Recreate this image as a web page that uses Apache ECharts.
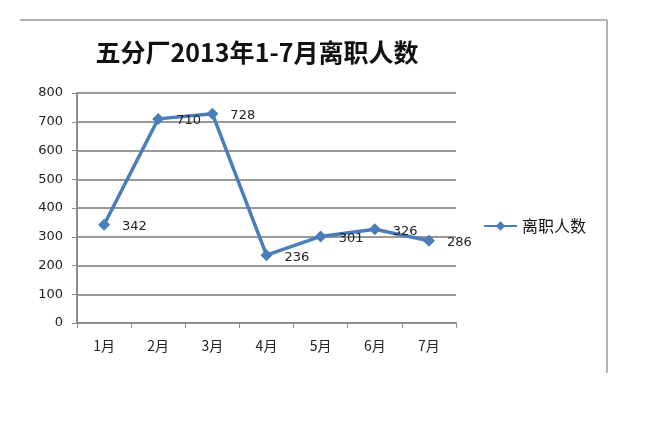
<!DOCTYPE html>
<html>
<head>
<meta charset="utf-8">
<script src="https://cdn.jsdelivr.net/npm/echarts@6/dist/echarts.min.js"></script>
<style>
html, body { margin: 0; padding: 0; background: #fff; }
#chart { width: 645px; height: 424px; }
</style>
</head>
<body>
<div id="chart"></div>
<script>
var months = ['1月', '2月', '3月', '4月', '5月', '6月', '7月'];
var leavers = [342, 710, 728, 236, 301, 326, 286];
var yTicks = [0, 100, 200, 300, 400, 500, 600, 700, 800];

var font = '"Noto Sans CJK SC", "Microsoft YaHei", sans-serif';
var numFont = 'Verdana, "DejaVu Sans", sans-serif';
var lineColor = '#4a7ebb';

var myChart = echarts.init(document.getElementById('chart'));

var option = {
    backgroundColor: '#fff',
    animation: false,
    title: {
        text: '五分厂2013年1-7月离职人数',
        left: 252,
        top: 35,
        textAlign: 'center',
        textStyle: {
            fontFamily: font,
            fontSize: 25,
            fontWeight: 'bold',
            color: '#111'
        }
    },
    legend: {
        data: ['离职人数'],
        orient: 'vertical',
        left: 483,
        top: 218,
        padding: 0,
        itemWidth: 33,
        itemHeight: 12,
        textStyle: { fontFamily: font, fontSize: 16, color: '#111' }
    },
    grid: {
        left: 77,
        top: 93,
        width: 379,
        height: 230
    },
    xAxis: {
        type: 'category',
        data: months,
        boundaryGap: true,
        axisLine: { lineStyle: { color: '#8c8c8c', width: 2 } },
        axisTick: { show: true, length: 5, lineStyle: { color: '#8c8c8c' } },
        axisLabel: { fontFamily: font, fontSize: 14, color: '#222', margin: 16 }
    },
    yAxis: {
        type: 'value',
        min: yTicks[0],
        max: yTicks[yTicks.length - 1],
        interval: 100,
        axisLine: { show: true, lineStyle: { color: '#8c8c8c', width: 2 } },
        axisTick: { show: true, length: 5, lineStyle: { color: '#8c8c8c' } },
        axisLabel: { fontFamily: numFont, fontSize: 13, color: '#222', margin: 14 },
        splitLine: { lineStyle: { color: '#999', width: 2 } }
    },
    series: [
        {
            name: '离职人数',
            type: 'line',
            data: leavers,
            symbol: 'diamond',
            symbolSize: 12,
            itemStyle: { color: lineColor },
            lineStyle: { color: lineColor, width: 3.5 },
            label: {
                show: true,
                position: 'right',
                distance: 12,
                offset: [0, 2],
                fontFamily: numFont,
                fontSize: 13,
                color: '#222'
            }
        }
    ],
    graphic: [
        {
            type: 'line',
            shape: { x1: 20, y1: 20, x2: 607, y2: 20 },
            style: { stroke: '#999', lineWidth: 1.5 }
        },
        {
            type: 'line',
            shape: { x1: 607, y1: 20, x2: 607, y2: 373 },
            style: { stroke: '#999', lineWidth: 1.5 }
        }
    ]
};

myChart.setOption(option);
</script>
</body>
</html>
